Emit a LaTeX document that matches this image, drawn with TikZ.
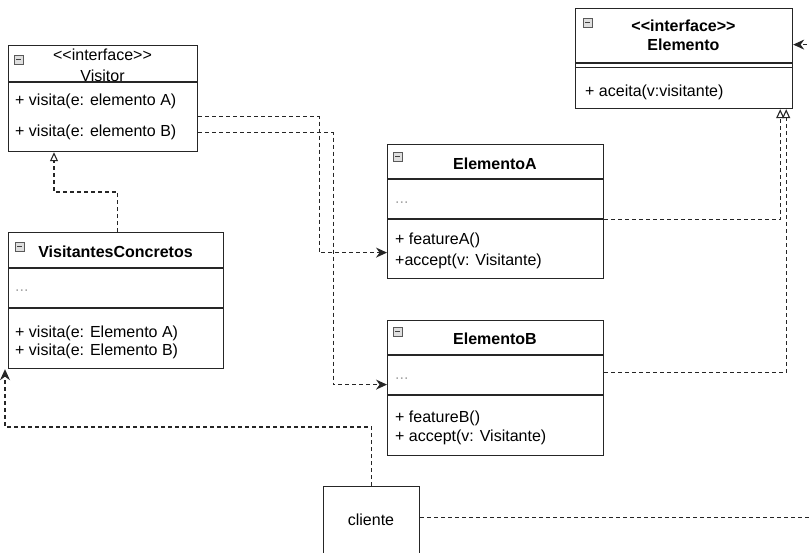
\documentclass[tikz,border=0pt]{standalone}
\usepackage{fontspec}
\setmainfont{Liberation Sans}
\usetikzlibrary{arrows.meta,calc}

\tikzset{
  classbox/.style={draw=black!85, line width=1.2pt, rectangle, inner sep=0pt, anchor=north west},
  sepline/.style={draw=black!85, line width=1.2pt},
  ttl/.style={font=\bfseries\fontsize{16}{18}\selectfont, inner sep=0pt, anchor=base},
  stereo/.style={font=\fontsize{16}{18}\selectfont, inner sep=0pt, anchor=base},
  member/.style={font=\fontsize{16}{18}\selectfont, inner sep=0pt, anchor=base west, text=black},
  elide/.style={member, text=gray!70},
  icon/.style={draw=gray!70!black, fill=gray!25, line width=0.6pt, inner sep=0pt,
    minimum width=9pt, minimum height=9pt, anchor=north west,
    path picture={\draw[line width=1.3pt, black!75]
      ([xshift=2pt]path picture bounding box.west) -- ([xshift=-2pt]path picture bounding box.east);}},
  dashlink/.style={draw=black!85, line width=1.1pt, dash pattern=on 4pt off 3pt},
  dep/.style={dashlink, -{Stealth[length=11pt,width=10pt]}},
  realize/.style={dashlink, -{Triangle[open,length=9pt,width=8pt,fill=white]}},
}

\begin{document}
\begin{tikzpicture}[x=1pt, y=-1pt]
\useasboundingbox[fill=white] (0,0) rectangle (809,552);

% ---- interface Visitor ----
\node[classbox, minimum width=189pt, minimum height=106pt] (vis) at (8,45) {};
\draw[sepline] (8,82) -- (197,82);
\node[icon] (visicon) at (14,55) {};
\node[stereo] (visst) at (102.5,60) {<{}<interface>{}>};
\node[stereo] (visname) at (102.5,81) {Visitor};
\node[member] (visa) at (15,105) {+ visita(e: elemento A)};
\node[member] (visb) at (15,136) {+ visita(e: elemento B)};

% ---- interface Elemento ----
\node[classbox, minimum width=217pt, minimum height=100pt] (el) at (575,8) {};
\draw[sepline] (575,63) -- (792,63);
\draw[sepline] (575,67.5) -- (792,67.5);
\node[icon] (elicon) at (583,18) {};
\node[ttl] (elst) at (683.5,31) {<{}<interface>{}>};
\node[ttl] (elname) at (683.5,50) {Elemento};
\node[member] (ela) at (585,96) {+ aceita(v:visitante)};

% ---- ElementoA ----
\node[classbox, minimum width=216pt, minimum height=134pt] (ea) at (387,144) {};
\draw[sepline] (387,179) -- (603,179);
\draw[sepline] (387,219) -- (603,219);
\node[icon] (eaicon) at (393,152) {};
\node[ttl] (eaname) at (495,169) {ElementoA};
\node[elide] (eadots) at (395,203) {...};
\node[member] (eaf) at (395,244) {+ featureA()};
\node[member] (eaacc) at (395,265.5) {+accept(v: Visitante)};

% ---- ElementoB ----
\node[classbox, minimum width=216pt, minimum height=135pt] (eb) at (387,320) {};
\draw[sepline] (387,355) -- (603,355);
\draw[sepline] (387,395) -- (603,395);
\node[icon] (ebicon) at (393,327) {};
\node[ttl] (ebname) at (495,344) {ElementoB};
\node[elide] (ebdots) at (395,379) {...};
\node[member] (ebf) at (395,422) {+ featureB()};
\node[member] (ebacc) at (395,441.5) {+ accept(v: Visitante)};

% ---- VisitantesConcretos ----
\node[classbox, minimum width=215pt, minimum height=136pt] (vc) at (8,232) {};
\draw[sepline] (8,268) -- (223,268);
\draw[sepline] (8,308) -- (223,308);
\node[icon] (vcicon) at (15,242) {};
\node[ttl] (vcname) at (115.5,257) {VisitantesConcretos};
\node[elide] (vcdots) at (15,291) {...};
\node[member] (vca) at (15,337) {+ visita(e: Elemento A)};
\node[member] (vcb) at (15,355) {+ visita(e: Elemento B)};

% ---- cliente ----
\node[classbox, minimum width=96pt, minimum height=80pt] (cl) at (323,486) {};
\node[stereo] (clname) at (371,525) {cliente};

% ---- dependencies from the visitor operations ----
\draw[dep] ([yshift=-18pt]vis.east) -- ++(121,0) |- ([yshift=-41pt]ea.west);
\draw[dep] ([yshift=-34pt]vis.east) -- ++(135,0) |- ([yshift=3.5pt]eb.west);

% ---- realizations ----
\draw[realize] ([xshift=1.5pt]vc.north) -- ++(0,-40) -| ([xshift=46pt]vis.south west);
\draw[realize] ([yshift=-8pt]ea.east) -| ([xshift=-13pt]el.south east);
\draw[realize] ([yshift=15.5pt]eb.east) -| ([xshift=-7pt]el.south east);

% ---- cliente uses ----
\draw[dep] (cl.north) -- ++(0,-59) -| ([xshift=-3pt]vc.south west);
\draw[dep] ([yshift=9pt]cl.east) -- ++(398,0) |- ([yshift=14pt]el.east);
\end{tikzpicture}
\end{document}
